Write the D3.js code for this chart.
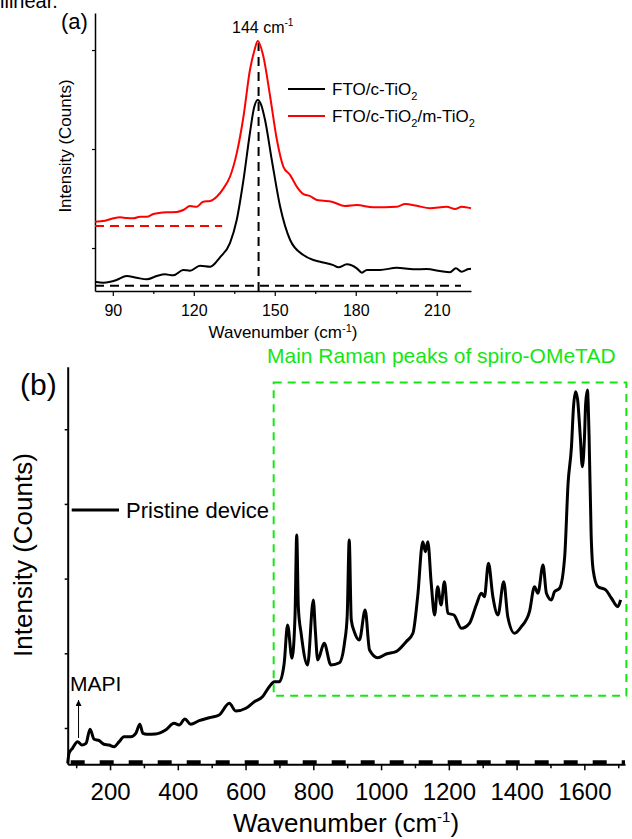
<!DOCTYPE html>
<html>
<head>
<meta charset="utf-8">
<script src="https://cdn.jsdelivr.net/npm/d3@7"></script>
<style>
  body { margin: 0; background: #fff; }
  text { font-family: "Liberation Sans", Arial, sans-serif; }
</style>
</head>
<body>
<script>
//Panel (a): TiO2 Raman, wavenumber and counts
var aWave = [83.4,86.6,91.4,95.1,98.8,102.6,106.3,109.3,112.4,116.1,118.6,122.3,126.1,129.7,133.4,135.9,138.4,140.8,142.3,143.7,145,146.4,148.9,152,155.7,160.6,164.3,166.8,171.7,173.6,176.7,180.4,182.3,184.1,189,195.2,201.4,206.3,211.2,214.9,217.1,219.2,221.7,222.7];
var aBlack = [660,650,677,717,700,684,717,734,724,778,771,821,811,906,1050,1283,1687,2162,2414,2495,2444,2293,1889,1417,1081,929,879,862,828,805,835,795,751,778,778,801,785,788,768,755,795,761,788,791];
var aRedWave = [83.4,87.1,90.2,92.7,95.1,97.6,100.1,102.6,105,110,113.7,116.1,118.6,121.1,123.5,126.1,128.5,131,133.4,135.9,138.4,140.8,142.5,143.7,145.8,148.3,150.8,153.2,155.7,158.2,160.6,163.1,165.6,168,171.1,176,180.4,186.5,195.2,198.3,202.6,207.5,213.7,216.8,219.3,222.7];
var aRed = [1266,1276,1300,1310,1303,1300,1316,1316,1343,1361,1364,1384,1424,1417,1468,1475,1518,1603,1720,1956,2326,2798,3000,3091,2932,2528,2091,1821,1737,1618,1545,1525,1485,1478,1468,1424,1434,1411,1417,1444,1427,1401,1417,1394,1417,1401];
var aXTicks = [90,120,150,180,210];
var aXMinor = [105,135,165,195];
var aYTicks = [1000,2000,3000];
var aPeak = 144;
var aBlackBase = 619;   //dashed baseline of black curve
var aRedBase = 1222;    //dashed baseline of red curve
var aLegend = ["FTO/c-TiO", "FTO/c-TiO"];

//Panel (b): pristine device spectrum
var bWave = [75,79,89,104,117,129,141,153,168,182,197,212,227,241,261,276,288,297,309,334,364,389,404,421,438,463,493,522,552,571,601,626,650,670,685,700,714,724,737,746,751,756,764,783,800,806,813,832,852,877,892,900,906,912,921,936,953,966,990,1015,1044,1074,1094,1108,1123,1131,1138,1148,1158,1167,1177,1187,1197,1215,1237,1261,1281,1296,1305,1317,1330,1345,1362,1374,1394,1414,1438,1453,1463,1478,1488,1503,1512,1527,1542,1552,1562,1568,1574,1580,1588,1594,1600,1604,1609,1614,1620,1626,1640,1663,1680,1699,1707];
var bCounts = [527,661,728,817,772,795,983,849,830,782,772,750,817,884,884,929,1050,929,916,920,973,1063,1040,1121,1050,1098,1138,1174,1331,1228,1264,1352,1419,1553,1620,1620,1866,2379,1933,2500,3584,2600,2268,1844,2714,2300,1911,2134,1844,1874,2138,2500,3517,2450,2289,2178,2580,2044,1941,1991,2022,2156,2268,2758,3495,3361,3495,2938,2513,2892,2647,2959,2536,2513,2335,2402,2647,2804,2758,3205,2758,2513,2959,2490,2268,2356,2557,2892,2804,3183,2804,2714,2825,2871,3294,4277,4767,5300,5503,5400,4900,4499,4850,5350,5526,4900,3600,3116,2892,2848,2737,2624,2714];
var bXTicks = [200,400,600,800,1000,1200,1400,1600];
var bXMinor = [100,300,500,700,900,1100,1300,1500,1700];
var bYTicks = [1000,2000,3000,4000,5000];
var bBase = 541;
var bBox = [683, 1724, 1432, 5624];   //wavenumber from/to, counts from/to
var bArrow = [107, 866, 1375];        //MAPI arrow: wavenumber, from, to

var w = 632, h = 839;
var green = "#14e614";

var svg = d3.select("body").append("svg")
    .attr("width", w)
    .attr("height", h);

svg.append("rect").attr("width", w).attr("height", h).attr("fill", "#fff");

//cut-off caption text at the very top
svg.append("text").attr("x", 0).attr("y", 8).attr("font-size", 20).text("ilinear.");

//================ Panel (a) ================
var xA = d3.scaleLinear().domain([83.4, 222.7]).range([95, 471]);
var yA = d3.scaleLinear().domain([566, 3374]).range([291, 13]);

var gA = svg.append("g");

var axA = gA.append("g")
    .attr("transform", "translate(0," + yA.range()[0] + ")")
    .call(d3.axisBottom(xA).tickValues(aXTicks).tickSize(5).tickSizeOuter(0).tickFormat(d3.format("d")));
axA.selectAll("text").attr("y", 25).attr("dy", null).attr("font-size", 16).attr("font-family", null);

gA.append("g")
    .attr("transform", "translate(0," + yA.range()[0] + ")")
    .call(d3.axisBottom(xA).tickValues(aXMinor).tickSize(3).tickSizeOuter(0).tickFormat(""))
    .select(".domain").remove();

gA.append("g")
    .attr("transform", "translate(" + xA.range()[0] + ",0)")
    .call(d3.axisLeft(yA).tickValues(aYTicks).tickSize(3).tickSizeOuter(0).tickFormat(""));

gA.selectAll(".domain").attr("stroke-width", 1.5);
gA.selectAll(".tick line").attr("stroke-width", 1.2);

//dashed guides
gA.append("line")
    .attr("x1", xA(83.4)).attr("x2", xA(219))
    .attr("y1", yA(aBlackBase)).attr("y2", yA(aBlackBase))
    .attr("stroke", "#000").attr("stroke-width", 2).attr("stroke-dasharray", "9,6");
gA.append("line")
    .attr("x1", xA(83.4)).attr("x2", xA(130.5))
    .attr("y1", yA(aRedBase)).attr("y2", yA(aRedBase))
    .attr("stroke", "#f00").attr("stroke-width", 2).attr("stroke-dasharray", "9,6");
gA.append("line")
    .attr("x1", xA(aPeak)).attr("x2", xA(aPeak))
    .attr("y1", yA(566)).attr("y2", yA(3070))
    .attr("stroke", "#000").attr("stroke-width", 2).attr("stroke-dasharray", "9,6");

var lineA = d3.line().x(function(d) { return xA(d[0]); }).y(function(d) { return yA(d[1]); })
    .curve(d3.curveMonotoneX);

gA.append("path").datum(d3.zip(aWave, aBlack))
    .attr("d", lineA).attr("fill", "none").attr("stroke", "#000").attr("stroke-width", 2);
gA.append("path").datum(d3.zip(aRedWave, aRed))
    .attr("d", lineA).attr("fill", "none").attr("stroke", "#f00").attr("stroke-width", 2);

//labels
gA.append("text").attr("x", 61).attr("y", 29).attr("font-size", 22).text("(a)");

var pk = gA.append("text").attr("x", 232).attr("y", 33).attr("font-size", 16);
pk.append("tspan").text(aPeak + " cm");
pk.append("tspan").attr("dy", -7).attr("font-size", 10).text("-1");

var xlA = gA.append("text").attr("x", 283).attr("y", 338).attr("font-size", 17).attr("text-anchor", "middle");
xlA.append("tspan").text("Wavenumber (cm");
xlA.append("tspan").attr("dy", -6).attr("font-size", 11).text("-1");
xlA.append("tspan").attr("dy", 6).text(")");

gA.append("text")
    .attr("transform", "translate(71,146) rotate(-90)")
    .attr("text-anchor", "middle").attr("font-size", 17)
    .text("Intensity (Counts)");

//legend (a)
var legColors = ["#000", "#f00"];
legColors.forEach(function(c, i) {
    var ly = 89 + i * 27;
    gA.append("line").attr("x1", 288).attr("x2", 325).attr("y1", ly).attr("y2", ly)
        .attr("stroke", c).attr("stroke-width", 2);
    var t = gA.append("text").attr("x", 332).attr("y", ly + 6).attr("font-size", 17);
    t.append("tspan").text(aLegend[i]);
    t.append("tspan").attr("dy", 5).attr("font-size", 11).text("2");
    if (i == 1) {
        t.append("tspan").attr("dy", -5).text("/m-TiO");
        t.append("tspan").attr("dy", 5).attr("font-size", 11).text("2");
    }
});

//================ Panel (b) ================
var xB = d3.scaleLinear().domain([75, 1720]).range([67.7, 625]);
var yB = d3.scaleLinear().domain([514, 5837]).range([764.3, 366.7]);

var gB = svg.append("g");

//green box and title
gB.append("rect")
    .attr("x", xB(bBox[0])).attr("y", yB(bBox[3]))
    .attr("width", xB(bBox[1]) - xB(bBox[0]))
    .attr("height", yB(bBox[2]) - yB(bBox[3]))
    .attr("fill", "none").attr("stroke", green).attr("stroke-width", 2)
    .attr("stroke-dasharray", "8,6");
gB.append("text").attr("x", 267).attr("y", 363).attr("font-size", 21)
    .attr("fill", green).text("Main Raman peaks of spiro-OMeTAD");

var axB = gB.append("g")
    .attr("transform", "translate(0," + yB.range()[0] + ")")
    .call(d3.axisBottom(xB).tickValues(bXTicks).tickSize(6).tickSizeOuter(0).tickFormat(d3.format("d")));
axB.selectAll("text").attr("y", 36).attr("dy", null).attr("font-size", 24).attr("font-family", null);

gB.append("g")
    .attr("transform", "translate(0," + yB.range()[0] + ")")
    .call(d3.axisBottom(xB).tickValues(bXMinor).tickSize(4).tickSizeOuter(0).tickFormat(""))
    .select(".domain").remove();

gB.append("g")
    .attr("transform", "translate(" + xB.range()[0] + ",0)")
    .call(d3.axisLeft(yB).tickValues(bYTicks).tickSize(3).tickSizeOuter(0).tickFormat(""));

gB.selectAll(".domain").attr("stroke-width", 2);
gB.selectAll(".tick line").attr("stroke-width", 1.5);

//dashed baseline
gB.append("line")
    .attr("x1", xB(75)).attr("x2", xB(1720))
    .attr("y1", yB(bBase)).attr("y2", yB(bBase))
    .attr("stroke", "#000").attr("stroke-width", 4).attr("stroke-dasharray", "14,15")
    .attr("stroke-dashoffset", -3);

var lineB = d3.line().x(function(d) { return xB(d[0]); }).y(function(d) { return yB(d[1]); })
    .curve(d3.curveMonotoneX);

gB.append("path").datum(d3.zip(bWave, bCounts))
    .attr("d", lineB).attr("fill", "none").attr("stroke", "#000")
    .attr("stroke-width", 3).attr("stroke-linejoin", "round");

//MAPI arrow
svg.append("defs").append("marker")
    .attr("id", "arr").attr("viewBox", "0 0 10 10").attr("refX", 10).attr("refY", 5)
    .attr("markerWidth", 6).attr("markerHeight", 6).attr("orient", "auto")
    .append("path").attr("d", "M0,0 L10,5 L0,10 Z").attr("fill", "#000");
gB.append("line")
    .attr("x1", xB(bArrow[0])).attr("x2", xB(bArrow[0]))
    .attr("y1", yB(bArrow[1])).attr("y2", yB(bArrow[2]))
    .attr("stroke", "#000").attr("stroke-width", 1).attr("marker-end", "url(#arr)");
gB.append("text").attr("x", 70).attr("y", 691).attr("font-size", 21).text("MAPI");

//labels
gB.append("text").attr("x", 20).attr("y", 395).attr("font-size", 30).text("(b)");

var xlB = gB.append("text").attr("x", 346).attr("y", 832).attr("font-size", 26).attr("text-anchor", "middle");
xlB.append("tspan").text("Wavenumber (cm");
xlB.append("tspan").attr("dy", -10).attr("font-size", 15).text("-1");
xlB.append("tspan").attr("dy", 10).text(")");

gB.append("text")
    .attr("transform", "translate(32,555) rotate(-90)")
    .attr("text-anchor", "middle").attr("font-size", 26)
    .text("Intensity (Counts)");

//legend (b)
gB.append("line").attr("x1", 71.7).attr("x2", 119).attr("y1", 510).attr("y2", 510)
    .attr("stroke", "#000").attr("stroke-width", 3);
gB.append("text").attr("x", 126).attr("y", 518).attr("font-size", 22).text("Pristine device");
</script>
</body>
</html>
